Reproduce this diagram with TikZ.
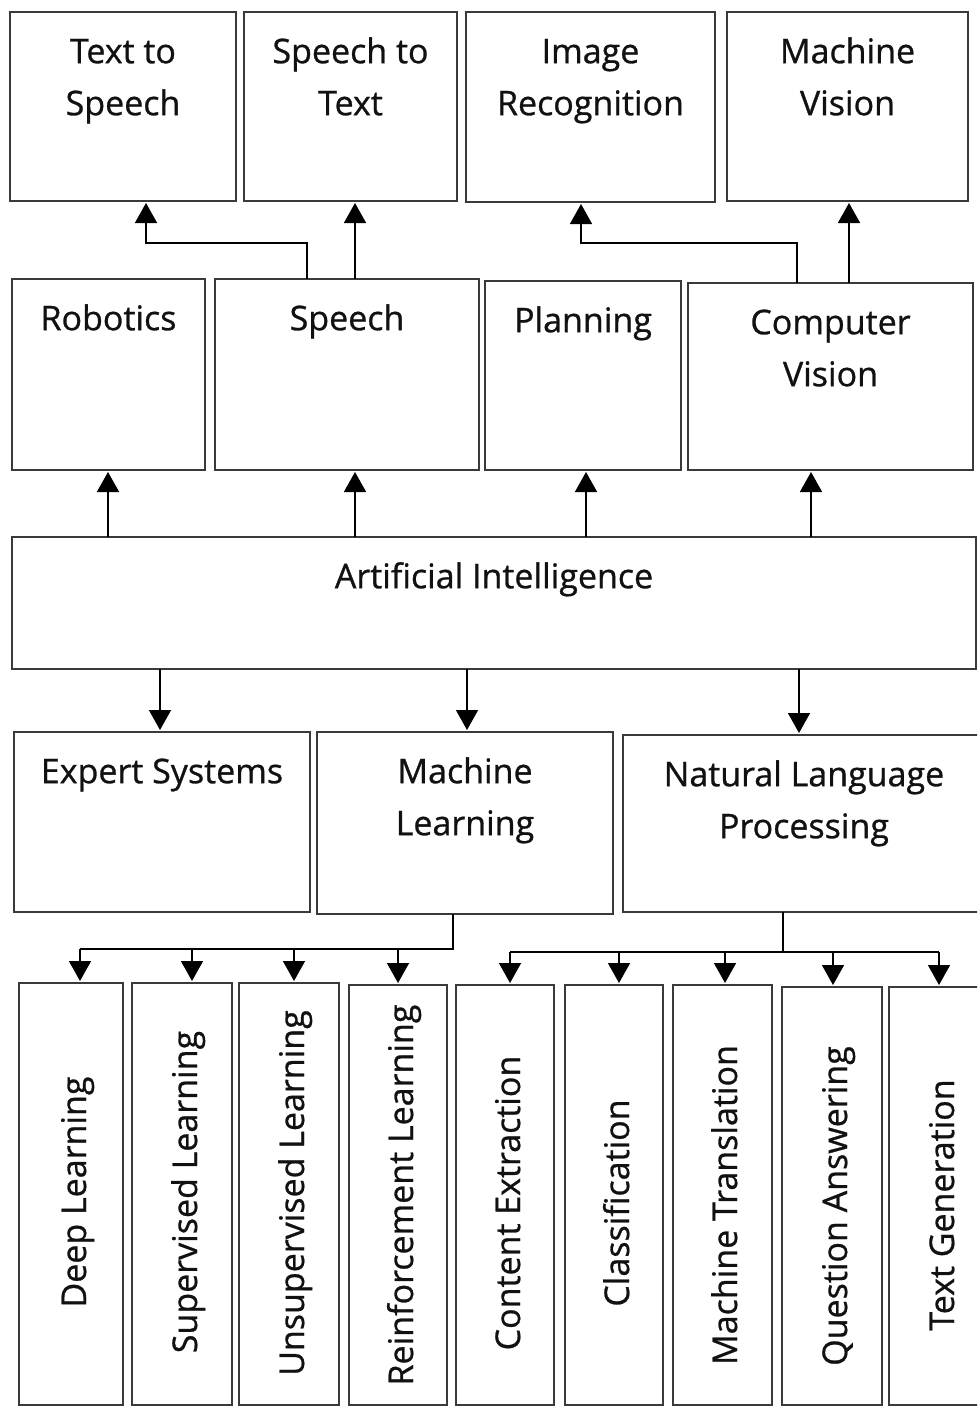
\documentclass[tikz,border=0pt]{standalone}
\usepackage{fontspec}
\setmainfont{Open Sans}[FakeBold=0.8]
\usetikzlibrary{arrows.meta}
\definecolor{boxc}{HTML}{3A3A3A}
\definecolor{txtc}{HTML}{111111}
\tikzset{
  box/.style={draw=boxc, line width=1.8pt, inner sep=0pt, outer sep=0pt, anchor=north west, fill=white},
  txt/.style={anchor=north, inner sep=0pt, align=center, text=txtc, font=\fontsize{34}{52}\selectfont},
  vtxt/.style={rotate=90, anchor=base, inner sep=0pt, text=txtc, font=\fontsize{34}{52}\selectfont},
  arr/.style={draw=black, line width=1.5pt, -{Triangle[width=22pt,length=20pt]}, shorten >=2pt},
  ln/.style={draw=black, line width=1.5pt},
}
\begin{document}
\begin{tikzpicture}[x=1pt, y=-1pt]
\clip (0,0) rectangle (977,1407);
\fill[white] (0,0) rectangle (977,1407);

% top row
\node[box, minimum width=226pt, minimum height=189pt] (tts) at (10,12) {};
\node[box, minimum width=213pt, minimum height=189pt] (stt) at (244,12) {};
\node[box, minimum width=249pt, minimum height=190pt] (imr) at (466,12) {};
\node[box, minimum width=241pt, minimum height=189pt] (mav) at (727,12) {};
\node[txt] (tts-t) at ([yshift=-14.6pt]tts.north) {\strut Text to\\\strut Speech};
\node[txt] (stt-t) at ([yshift=-14.6pt]stt.north) {\strut Speech to\\\strut Text};
\node[txt] (imr-t) at ([yshift=-14.6pt]imr.north) {\strut Image\\\strut Recognition};
\node[txt] (mav-t) at ([yshift=-14.6pt]mav.north) {\strut Machine\\\strut Vision};

% second row
\node[box, minimum width=193pt, minimum height=191pt] (rob) at (12,279) {};
\node[box, minimum width=264pt, minimum height=191pt] (spe) at (215,279) {};
\node[box, minimum width=196pt, minimum height=189pt] (pla) at (485,281) {};
\node[box, minimum width=285pt, minimum height=187pt] (cv) at (688,283) {};
\node[txt] (rob-t) at ([yshift=-14.6pt]rob.north) {\strut Robotics};
\node[txt] (spe-t) at ([yshift=-14.6pt]spe.north) {\strut Speech};
\node[txt] (pla-t) at ([yshift=-14.6pt]pla.north) {\strut Planning};
\node[txt] (cv-t) at ([yshift=-14.6pt]cv.north) {\strut Computer\\\strut Vision};

% AI
\node[box, minimum width=964pt, minimum height=132pt] (ai) at (12,537) {};
\node[txt] (ai-t) at ([yshift=-14.6pt]ai.north) {\strut Artificial Intelligence};

% third row
\node[box, minimum width=296pt, minimum height=180pt] (exp) at (14,732) {};
\node[box, minimum width=296pt, minimum height=182pt] (ml) at (317,732) {};
\node[box, minimum width=362pt, minimum height=177pt] (nlp) at (623,735) {};
\node[txt] (exp-t) at ([yshift=-14.6pt]exp.north) {\strut Expert Systems};
\node[txt] (ml-t) at ([yshift=-14.6pt]ml.north) {\strut Machine\\\strut Learning};
\node[txt] (nlp-t) at ([yshift=-14.6pt]nlp.north) {\strut Natural Language\\\strut Processing};

% bottom row
\node[box, minimum width=104pt, minimum height=422pt] (dl) at (19,983) {};
\node[box, minimum width=100pt, minimum height=422pt] (sl) at (132,983) {};
\node[box, minimum width=100pt, minimum height=422pt] (ul) at (239,983) {};
\node[box, minimum width=98pt, minimum height=420pt] (rl) at (349,985) {};
\node[box, minimum width=98pt, minimum height=420pt] (ce) at (456,985) {};
\node[box, minimum width=98pt, minimum height=420pt] (cl) at (565,985) {};
\node[box, minimum width=99pt, minimum height=420pt] (mt) at (673,985) {};
\node[box, minimum width=100pt, minimum height=418pt] (qa) at (782,987) {};
\node[box, minimum width=100pt, minimum height=418pt] (tg) at (889,987) {};
\node[vtxt] (dl-t) at (86,1192) {Deep Learning};
\node[vtxt] (sl-t) at (197,1192) {Supervised Learning};
\node[vtxt] (ul-t) at (304,1193) {Unsupervised Learning};
\node[vtxt] (rl-t) at (413,1195) {Reinforcement Learning};
\node[vtxt] (ce-t) at (520,1203) {Content Extraction};
\node[vtxt] (cl-t) at (629,1203) {Classification};
\node[vtxt] (mt-t) at (737,1205) {Machine Translation};
\node[vtxt] (qa-t) at (847,1206) {Question Answering};
\node[vtxt] (tg-t) at (954,1205) {Text Generation};

% AI -> second row
\draw[arr] (ai.north -| 108,0) -- (rob.south -| 108,0);
\draw[arr] (ai.north -| 355,0) -- (spe.south -| 355,0);
\draw[arr] (ai.north -| 586,0) -- (pla.south -| 586,0);
\draw[arr] (ai.north -| 811,0) -- (cv.south -| 811,0);

% second row -> top row
\draw[arr] (spe.north -| 307,0) |- (146,243) -- (tts.south -| 146,0);
\draw[arr] (spe.north -| 355,0) -- (stt.south -| 355,0);
\draw[arr] (cv.north -| 797,0) |- (581,243) -- (imr.south -| 581,0);
\draw[arr] (cv.north -| 849,0) -- (mav.south -| 849,0);

% AI -> third row
\draw[arr] (ai.south -| 160,0) -- (exp.north -| 160,0);
\draw[arr] (ai.south -| 467,0) -- (ml.north -| 467,0);
\draw[arr] (ai.south -| 799,0) -- (nlp.north -| 799,0);

% ML -> children
\draw[ln] (ml.south -| 453,0) |- (80,949);
\foreach \x/\n in {80/dl,192/sl,294/ul,398/rl}
  \draw[arr] (\x,949) -- (\n.north -| \x,0);

% NLP -> children
\draw[ln] (nlp.south -| 783,0) -- (783,952);
\draw[ln] (510,952) -- (939,952);
\foreach \x/\n in {510/ce,619/cl,725/mt,833/qa,939/tg}
  \draw[arr] (\x,952) -- (\n.north -| \x,0);
\end{tikzpicture}
\end{document}
